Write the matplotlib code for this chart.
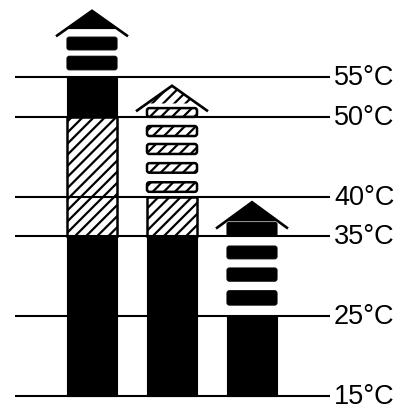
import matplotlib
matplotlib.use("Agg")
import matplotlib.pyplot as plt
from matplotlib.patches import Rectangle, FancyBboxPatch, Polygon

# ---- data (temperatures in °C) ----
temp_ticks = [15, 25, 35, 40, 50, 55]
tick_labels = ["15°C", "25°C", "35°C", "40°C", "50°C", "55°C"]

# continuous bar segments: (bottom, top, style)
bar_segments = [
    [(15, 35, "solid"), (35, 50, "hatch"), (50, 55, "solid")],
    [(15, 35, "solid"), (35, 40, "hatch")],
    [(15, 25, "solid")],
]
# dashed continuation above each bar: (bottom, top)
bar_dashes = [
    [(55.9, 57.6), (58.4, 60.0)],
    [(40.6, 41.8), (43.0, 44.2), (45.35, 46.6), (47.6, 48.85), (50.0, 51.1)],
    [(26.4, 28.2), (29.4, 31.05), (32.2, 33.8), (35.05, 36.8)],
]
dash_styles = ["solid", "hatch", "solid"]
arrow_base = [60.1, 50.7, 36.0]
arrow_apex = [63.3, 53.9, 39.3]

# ---- layout ----
plt.rcParams["hatch.linewidth"] = 1.6
fig = plt.figure(figsize=(4.07, 4.10), dpi=100)
ax = fig.add_axes([0, 0, 1, 1])
ax.set_xlim(-1.15, 3.9375)
ax.set_ylim(13.37, 64.78)
ax.axis("off")

bar_w = 0.625
roof_hw = 0.45
x_left, x_right = -0.9625, 2.975
aspect = 80 / 7.975


def add_box(x0, y0, w, h, style, rounded=False):
    if style == "solid":
        kw = dict(facecolor="black", edgecolor="black", linewidth=0.8)
    else:
        kw = dict(facecolor="white", edgecolor="black", linewidth=1.8, hatch="///")
    if rounded:
        p = FancyBboxPatch((x0, y0), w, h,
                           boxstyle="round,pad=0,rounding_size=0.03",
                           mutation_aspect=aspect, zorder=2, **kw)
    else:
        p = Rectangle((x0, y0), w, h, zorder=2, **kw)
    ax.add_patch(p)


for i, segs in enumerate(bar_segments):
    x0 = i - bar_w / 2
    for (b, t, s) in segs:
        add_box(x0, b, bar_w, t - b, s)
    for (b, t) in bar_dashes[i]:
        add_box(x0, b, bar_w, t - b, dash_styles[i], rounded=True)
    # arrow head (roof)
    apex, base = arrow_apex[i], arrow_base[i]
    y_fill = apex - (apex - base) * (bar_w / 2) / roof_hw
    tri = [(i, apex), (i - bar_w / 2, y_fill), (i + bar_w / 2, y_fill)]
    if dash_styles[i] == "solid":
        ax.add_patch(Polygon(tri, closed=True, facecolor="black",
                             edgecolor="black", linewidth=0.8, zorder=3))
    else:
        ax.add_patch(Polygon(tri, closed=True, facecolor="white",
                             edgecolor="black", linewidth=0, hatch="///", zorder=3))
    ax.plot([i - roof_hw, i, i + roof_hw], [base, apex, base], color="black",
            lw=1.9, solid_joinstyle="miter", solid_capstyle="butt", zorder=4)

ax.hlines(temp_ticks, x_left, x_right, colors="black", lw=1.5, zorder=3)
for t, lab in zip(temp_ticks, tick_labels):
    ax.text(x_right + 0.05, t, lab, ha="left", va="center",
            fontsize=19.5, family=["Liberation Sans", "DejaVu Sans"], color="black")

fig.savefig("out.png", dpi=100, facecolor="white")
